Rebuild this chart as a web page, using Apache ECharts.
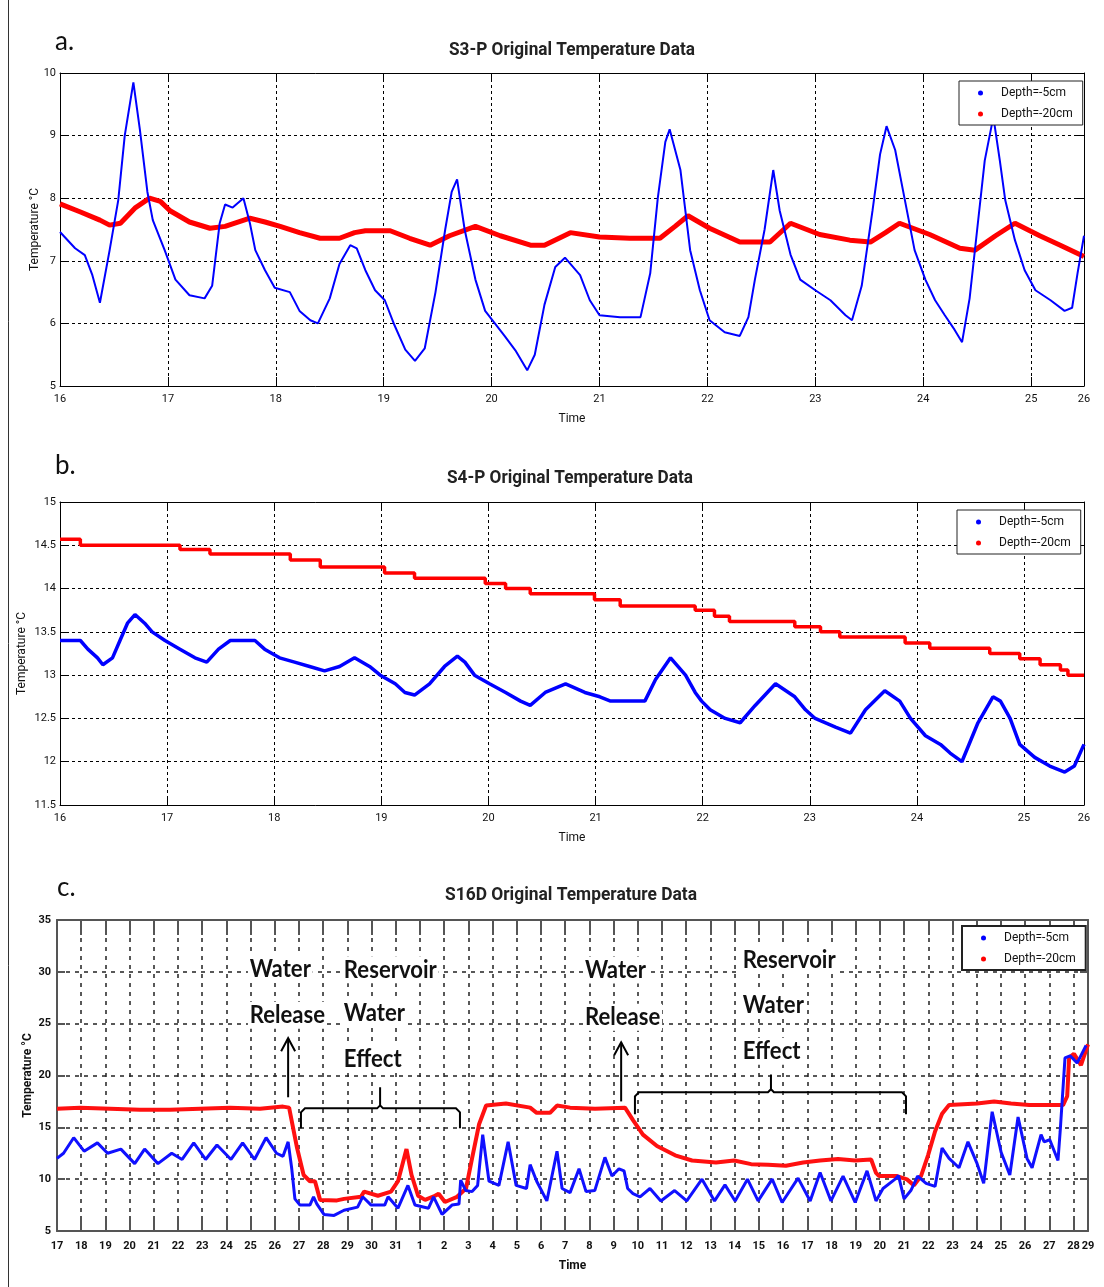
<!DOCTYPE html>
<html>
<head>
<meta charset="utf-8">
<script src="https://cdn.jsdelivr.net/npm/echarts@6/dist/echarts.min.js"></script>
<style>
  html, body { margin: 0; padding: 0; background: #fff; }
  #chart { width: 1104px; height: 1287px; }
</style>
</head>
<body>
<div id="chart"></div>
<script>
// ---- S3-P : time in days, temperature in °C ----
const s3Shallow = [[16.00,7.46],[16.14,7.20],[16.23,7.09],[16.30,6.77],[16.37,6.33],[16.46,7.17],[16.54,7.97],[16.60,9.00],[16.68,9.85],[16.74,9.10],[16.81,8.10],[16.86,7.65],[16.97,7.17],[17.07,6.70],[17.20,6.45],[17.34,6.40],[17.41,6.60],[17.48,7.60],[17.53,7.90],[17.60,7.85],[17.70,8.00],[17.76,7.60],[17.81,7.17],[17.90,6.85],[17.99,6.57],[18.13,6.50],[18.22,6.20],[18.32,6.05],[18.39,6.00],[18.50,6.40],[18.59,6.95],[18.69,7.25],[18.75,7.20],[18.83,6.85],[18.92,6.53],[19.01,6.37],[19.10,5.97],[19.20,5.58],[19.29,5.40],[19.38,5.60],[19.48,6.50],[19.57,7.50],[19.63,8.10],[19.68,8.30],[19.75,7.50],[19.85,6.70],[19.94,6.20],[20.03,6.00],[20.12,5.80],[20.22,5.57],[20.33,5.25],[20.40,5.50],[20.49,6.30],[20.59,6.90],[20.68,7.05],[20.82,6.77],[20.91,6.37],[21.00,6.13],[21.19,6.10],[21.38,6.10],[21.47,6.80],[21.54,8.00],[21.61,8.90],[21.65,9.10],[21.75,8.45],[21.84,7.17],[21.93,6.53],[22.02,6.05],[22.16,5.86],[22.30,5.80],[22.38,6.10],[22.44,6.70],[22.53,7.50],[22.61,8.45],[22.67,7.80],[22.77,7.10],[22.86,6.70],[23.00,6.53],[23.14,6.37],[23.28,6.13],[23.34,6.05],[23.43,6.60],[23.53,7.80],[23.60,8.70],[23.66,9.15],[23.74,8.77],[23.83,7.97],[23.92,7.17],[24.02,6.70],[24.11,6.37],[24.20,6.13],[24.29,5.90],[24.36,5.70],[24.43,6.40],[24.50,7.50],[24.57,8.60],[24.65,9.30],[24.71,8.60],[24.76,7.97],[24.85,7.33],[24.94,6.85],[25.04,6.53],[25.18,6.37],[25.31,6.20],[25.38,6.25],[25.43,6.80],[25.49,7.40]];
const s3Deep = [[16.00,7.91],[16.19,7.78],[16.37,7.65],[16.46,7.57],[16.56,7.60],[16.70,7.85],[16.83,8.00],[16.93,7.95],[17.02,7.80],[17.20,7.62],[17.39,7.52],[17.53,7.55],[17.76,7.68],[17.90,7.62],[18.04,7.55],[18.22,7.45],[18.41,7.36],[18.59,7.36],[18.73,7.45],[18.83,7.48],[19.06,7.48],[19.24,7.36],[19.43,7.25],[19.61,7.40],[19.85,7.55],[20.08,7.40],[20.36,7.25],[20.49,7.25],[20.73,7.45],[21.00,7.38],[21.28,7.36],[21.56,7.36],[21.70,7.55],[21.82,7.72],[22.02,7.52],[22.30,7.30],[22.58,7.30],[22.77,7.60],[23.04,7.42],[23.32,7.33],[23.51,7.30],[23.65,7.45],[23.78,7.60],[24.06,7.42],[24.34,7.20],[24.48,7.17],[24.67,7.40],[24.85,7.60],[25.08,7.40],[25.27,7.25],[25.49,7.07]];
const s3TimeLabels = ['16','17','18','19','20','21','22','23','24','25','26'];

// ---- S4-P ----
const s4Shallow = [[16.00,13.40],[16.19,13.40],[16.26,13.30],[16.35,13.20],[16.40,13.12],[16.49,13.20],[16.56,13.40],[16.63,13.60],[16.70,13.70],[16.79,13.60],[16.86,13.50],[16.98,13.40],[17.12,13.30],[17.26,13.20],[17.37,13.15],[17.48,13.30],[17.59,13.40],[17.82,13.40],[17.91,13.30],[18.05,13.20],[18.19,13.15],[18.33,13.10],[18.47,13.05],[18.61,13.10],[18.75,13.20],[18.89,13.10],[18.99,13.00],[19.13,12.90],[19.22,12.80],[19.31,12.77],[19.45,12.90],[19.59,13.10],[19.71,13.22],[19.78,13.15],[19.87,13.00],[20.01,12.90],[20.16,12.80],[20.30,12.70],[20.39,12.65],[20.53,12.80],[20.72,12.90],[20.90,12.80],[21.04,12.75],[21.14,12.70],[21.46,12.70],[21.56,12.95],[21.70,13.20],[21.84,13.00],[21.93,12.80],[21.99,12.70],[22.07,12.60],[22.21,12.50],[22.35,12.45],[22.49,12.65],[22.68,12.90],[22.86,12.75],[22.96,12.60],[23.05,12.50],[23.24,12.40],[23.38,12.33],[23.52,12.60],[23.70,12.82],[23.84,12.70],[23.94,12.50],[24.08,12.30],[24.22,12.20],[24.31,12.10],[24.42,12.00],[24.57,12.45],[24.71,12.75],[24.78,12.70],[24.87,12.50],[24.96,12.20],[25.10,12.05],[25.24,11.95],[25.38,11.88],[25.47,11.95],[25.56,12.20]];
const s4Deep = [[16.00,14.57],[16.19,14.50],[17.12,14.45],[17.40,14.40],[18.15,14.33],[18.43,14.25],[19.03,14.18],[19.31,14.12],[19.97,14.06],[20.16,14.00],[20.39,13.94],[20.99,13.87],[21.23,13.80],[21.93,13.75],[22.11,13.68],[22.25,13.62],[22.86,13.56],[23.10,13.50],[23.28,13.44],[23.89,13.37],[24.12,13.31],[24.68,13.25],[24.96,13.19],[25.15,13.12],[25.34,13.06],[25.41,13.00],[25.56,13.00]];
const s4TimeLabels = ['16','17','18','19','20','21','22','23','24','25','26'];

// ---- S16D : day 17..31 then 32.. = 1.. of the next month ----
const s16Shallow = [[17.00,12.0],[17.27,12.5],[17.69,14.0],[18.12,12.7],[18.67,13.5],[19.09,12.5],[19.64,12.9],[20.21,11.5],[20.62,12.9],[21.17,11.5],[21.74,12.5],[22.17,11.9],[22.65,13.5],[23.14,11.9],[23.61,13.3],[24.19,11.9],[24.67,13.5],[25.16,11.9],[25.64,14.0],[26.07,12.5],[26.34,12.2],[26.55,13.6],[26.70,11.0],[26.83,8.1],[27.04,7.5],[27.45,7.5],[27.60,8.3],[27.74,7.6],[28.03,6.6],[28.45,6.5],[28.86,7.0],[29.42,7.3],[29.63,8.3],[29.98,7.5],[30.54,7.5],[30.68,8.3],[31.09,7.2],[31.50,9.4],[31.79,7.5],[32.35,7.2],[32.56,8.3],[32.91,6.6],[33.32,7.5],[33.61,7.6],[33.68,9.9],[33.89,8.9],[34.15,8.8],[34.38,9.4],[34.59,14.3],[34.85,9.8],[35.26,9.4],[35.64,13.6],[35.97,9.4],[36.40,9.1],[36.55,11.4],[36.82,9.8],[37.24,7.9],[37.66,12.7],[37.87,9.1],[38.20,8.7],[38.57,11.0],[38.86,8.8],[39.22,8.9],[39.64,12.1],[39.93,10.3],[40.22,11.0],[40.43,10.8],[40.58,9.1],[40.80,8.6],[41.09,8.3],[41.50,9.1],[41.95,7.9],[42.52,8.9],[43.02,7.9],[43.65,10.0],[44.17,7.9],[44.60,9.45],[45.02,7.9],[45.53,10.0],[45.97,7.9],[46.55,10.0],[46.96,7.75],[47.62,10.1],[48.12,7.9],[48.53,10.65],[48.98,7.9],[49.48,10.3],[49.98,7.75],[50.47,10.8],[50.84,7.9],[51.13,9.1],[51.63,10.0],[51.77,10.35],[52.00,8.1],[52.28,8.9],[52.56,10.3],[52.91,9.6],[53.28,9.3],[53.57,13.0],[53.86,12.0],[54.27,11.1],[54.64,13.6],[55.00,11.6],[55.29,9.6],[55.64,16.5],[56.01,12.6],[56.37,10.4],[56.71,16.0],[57.08,12.0],[57.29,11.1],[57.66,14.3],[57.79,13.6],[58.02,13.8],[58.36,11.8],[58.45,14.6],[58.65,21.7],[58.86,21.9],[59.15,21.2],[59.52,22.9]];
const s16Deep = [[17.00,16.8],[17.95,16.9],[19.19,16.8],[20.43,16.7],[21.67,16.7],[22.91,16.8],[24.15,16.9],[25.39,16.8],[26.34,17.0],[26.59,16.9],[26.92,13.0],[27.19,10.4],[27.45,9.8],[27.66,9.8],[27.87,8.0],[28.57,7.95],[28.86,8.1],[29.56,8.3],[29.69,8.8],[30.26,8.4],[30.80,8.8],[31.09,9.8],[31.44,12.9],[31.65,10.4],[31.92,8.4],[32.21,8.0],[32.62,8.4],[32.77,8.6],[33.03,7.8],[33.53,8.3],[33.90,9.1],[34.15,12.0],[34.44,15.3],[34.73,17.1],[35.55,17.3],[36.55,16.9],[36.82,16.4],[37.37,16.4],[37.66,17.1],[38.20,16.9],[39.23,16.8],[40.47,16.9],[40.80,15.7],[41.21,14.3],[41.79,13.2],[42.54,12.3],[43.24,11.8],[44.23,11.6],[44.98,11.8],[45.68,11.45],[46.38,11.4],[47.12,11.3],[47.83,11.6],[48.53,11.8],[49.27,11.95],[49.98,11.8],[50.64,11.9],[50.84,10.6],[50.97,10.3],[51.71,10.3],[52.12,9.98],[52.41,9.4],[52.70,10.3],[52.99,12.3],[53.28,14.6],[53.57,16.3],[53.86,17.15],[55.02,17.3],[55.72,17.5],[56.42,17.3],[57.17,17.15],[57.87,17.15],[58.57,17.15],[58.74,18.0],[58.82,21.7],[59.02,22.1],[59.31,21.0],[59.60,23.0]];
const s16TimeLabels = ['17','18','19','20','21','22','23','24','25','26','27','28','29','30','31',
  '1','2','3','4','5','6','7','8','9','10','11','12','13','14','15','16','17','18','19','20',
  '21','22','23','24','25','26','27','28','29'];

const seriesNames = ['Depth=-5cm', 'Depth=-20cm'];
const panelTitles = ['S3-P Original Temperature Data', 'S4-P Original Temperature Data', 'S16D Original Temperature Data'];

const NARROW = "'Liberation Sans Narrow','Arial Narrow',Roboto,Arial,sans-serif";
const SANS = "Lato,'Open Sans','Noto Sans',sans-serif";
const BLUE = '#0000ff', RED = '#ff0000';

const chart = echarts.init(document.getElementById('chart'));

// width of a string in a given canvas font, used to squeeze text to a condensed look
const measureCtx = document.createElement('canvas').getContext('2d');
function fitScale(text, font, width) {
  measureCtx.font = font;
  return width / measureCtx.measureText(text).width;
}

// Bottom + top x axes for one panel (boxed frame, inward ticks)
function xPair(g, min, max, labels, o) {
  const line = { onZero: false, lineStyle: { color: o.frame, width: o.frameW } };
  const tick = { inside: true, length: o.tickX, lineStyle: { color: o.frame, width: o.tickW } };
  return [
    { type: 'value', gridIndex: g, position: 'bottom', min, max, interval: 1,
      axisLine: line, axisTick: tick,
      axisLabel: { formatter: (v, i) => labels[i], showMinLabel: true, showMaxLabel: true,
        margin: o.labelMargin, fontSize: o.labelSize, color: '#111', fontFamily: NARROW, fontWeight: o.labelWeight },
      splitLine: { show: true, lineStyle: { color: o.grid, type: o.dash, width: o.gridW } },
      name: 'Time', nameLocation: 'middle', nameGap: o.timeGap, nameMoveOverlap: false,
      nameTextStyle: { fontSize: 12, color: '#111', fontFamily: NARROW, fontWeight: o.labelWeight } },
    { type: 'value', gridIndex: g, position: 'top', min, max, interval: 1,
      axisLine: line, axisTick: tick, axisLabel: { show: false }, splitLine: { show: false } }
  ];
}
function yPair(g, min, max, interval, o) {
  const line = { onZero: false, lineStyle: { color: o.frame, width: o.frameW } };
  const tick = { inside: true, length: o.tickY, lineStyle: { color: o.frame, width: o.tickW } };
  return [
    { type: 'value', gridIndex: g, position: 'left', min, max, interval,
      axisLine: line, axisTick: tick,
      axisLabel: { margin: o.yLabelMargin, fontSize: o.labelSize, color: '#111', fontFamily: NARROW, fontWeight: o.labelWeight },
      splitLine: { show: true, lineStyle: { color: o.grid, type: o.dash, width: o.gridW } },
      name: 'Temperature °C', nameLocation: 'middle', nameGap: o.nameGap, nameMoveOverlap: false,
      nameTextStyle: { fontSize: 12, color: '#111', fontFamily: NARROW, fontWeight: o.labelWeight } },
    { type: 'value', gridIndex: g, position: 'right', min, max, interval,
      axisLine: line, axisTick: tick, axisLabel: { show: false }, splitLine: { show: false } }
  ];
}

const styleAB = { frame: '#000', frameW: 1, tickW: 1, tickX: 9, tickY: 7, grid: '#000', gridW: 1, dash: [3, 3],
  labelMargin: 8, yLabelMargin: 4, labelSize: 11, labelWeight: 'normal', timeGap: 27 };
const styleC = { frame: '#555', frameW: 2, tickW: 2, tickX: 15, tickY: 8, grid: '#222', gridW: 1.5, dash: [4, 5],
  labelMargin: 10, yLabelMargin: 6, labelSize: 11, labelWeight: 'bold', timeGap: 29 };

function legendAt(left, top, bw) {
  return {
    orient: 'vertical', left, top, selectedMode: false,
    backgroundColor: '#fff', borderColor: '#222', borderWidth: bw,
    padding: [6, 10, 5, 19], itemGap: 9, itemWidth: 5, itemHeight: 5,
    textStyle: { fontSize: 12, color: '#111', fontFamily: NARROW, padding: [0, 0, 0, 13] },
    data: [{ name: seriesNames[0], icon: 'circle' }, { name: seriesNames[1], icon: 'circle' }]
  };
}

const option = {
  animation: false,
  backgroundColor: '#fff',
  grid: [
    { left: 60, top: 73, width: 1024, height: 313 },
    { left: 60, top: 502, width: 1024, height: 303 },
    { left: 57, top: 920, width: 1031, height: 311 }
  ],
  xAxis: [].concat(
    xPair(0, 16, 25.49, s3TimeLabels, styleAB),
    xPair(1, 16, 25.56, s4TimeLabels, styleAB),
    xPair(2, 17, 59.6, s16TimeLabels, styleC)
  ),
  yAxis: [].concat(
    yPair(0, 5, 10, 1, Object.assign({}, styleAB, { nameGap: 19 })),
    yPair(1, 11.5, 15, 0.5, Object.assign({}, styleAB, { nameGap: 32 })),
    yPair(2, 5, 35, 5, Object.assign({}, styleC, { nameGap: 23 }))
  ),
  legend: [legendAt(959, 81, 1), legendAt(957, 510, 1), legendAt(962, 926, 2)],
  series: [
    { name: seriesNames[0], type: 'line', xAxisIndex: 0, yAxisIndex: 0, data: s3Shallow, showSymbol: false,
      itemStyle: { color: BLUE }, lineStyle: { color: BLUE, width: 2 }, z: 3 },
    { name: seriesNames[1], type: 'line', xAxisIndex: 0, yAxisIndex: 0, data: s3Deep, showSymbol: false,
      itemStyle: { color: RED }, lineStyle: { color: RED, width: 5 }, z: 2 },
    { name: seriesNames[0], type: 'line', xAxisIndex: 2, yAxisIndex: 2, data: s4Shallow, showSymbol: false,
      itemStyle: { color: BLUE }, lineStyle: { color: BLUE, width: 3.5 } },
    { name: seriesNames[1], type: 'line', xAxisIndex: 2, yAxisIndex: 2, data: s4Deep, showSymbol: false, step: 'end',
      itemStyle: { color: RED }, lineStyle: { color: RED, width: 3.5 } },
    { name: seriesNames[0], type: 'line', xAxisIndex: 4, yAxisIndex: 4, data: s16Shallow, showSymbol: false,
      itemStyle: { color: BLUE }, lineStyle: { color: '#1010ff', width: 3 }, z: 3 },
    { name: seriesNames[1], type: 'line', xAxisIndex: 4, yAxisIndex: 4, data: s16Deep, showSymbol: false,
      itemStyle: { color: RED }, lineStyle: { color: '#ff1010', width: 4 }, z: 2 }
  ]
};
chart.setOption(option);

// ---- titles, panel letters and the annotations of panel c ----
const pc = (d, v) => chart.convertToPixel({ xAxisIndex: 4, yAxisIndex: 4 }, [d, v]);
const noteBlocks = [
  { d: 24.89, lines: [['Water', 30.27], ['Release', 25.82]] },
  { d: 28.78, lines: [['Reservoir', 30.20], ['Water', 26.01], ['Effect', 21.57]] },
  { d: 38.74, lines: [['Water', 30.17], ['Release', 25.63]] },
  { d: 45.26, lines: [['Reservoir', 31.14], ['Water', 26.79], ['Effect', 22.34]] }
];
const arrows = [{ d: 26.55, from: 17.9, to: 23.6 }, { d: 40.31, from: 17.5, to: 23.2 }];
const brackets = [
  { d0: 27.08, d1: 33.65, mid: 30.35, v: 16.83, foot: 14.9, top: 18.86 },
  { d0: 40.88, d1: 52.08, mid: 46.50, v: 18.38, foot: 16.26, top: 20.1 }
];

const g = [];
const TITLE_FONT = 'bold 18px Roboto';
[[572, 50, 246], [570, 478, 246], [571, 895, 252]].forEach((p, i) => {
  const sx = fitScale(panelTitles[i], TITLE_FONT, p[2]);
  g.push({ type: 'text', x: p[0], y: p[1], scaleX: sx,
    style: { text: panelTitles[i], fontSize: 18, fontWeight: 'bold', fontFamily: 'Roboto', fill: '#222',
      align: 'center', verticalAlign: 'middle' } });
});
[['a.', 55, 42], ['b.', 55, 466], ['c.', 57, 888]].forEach(t => {
  g.push({ type: 'text', x: t[1], y: t[2], style: { text: t[0], fontSize: 26, fontFamily: SANS, fill: '#111', verticalAlign: 'middle' } });
});
g.push({ type: 'line', shape: { x1: 8.5, y1: 0, x2: 8.5, y2: 1287 }, style: { stroke: '#333', lineWidth: 1 } });

const NOTE_FONT = 'bold 25px Lato';
const noteScale = fitScale('Reservoir', NOTE_FONT, 93);
noteBlocks.forEach(b => {
  b.lines.forEach(l => {
    const p = pc(b.d, l[1]);
    g.push({ type: 'text', x: p[0], y: p[1], z: 20, scaleX: noteScale,
      style: { text: l[0], fontSize: 25, fontWeight: 'bold', fontFamily: 'Lato', fill: '#111', verticalAlign: 'middle',
        backgroundColor: '#fff', padding: [1, 2, 1, 2] } });
  });
});
arrows.forEach(a => {
  const p0 = pc(a.d, a.from), p1 = pc(a.d, a.to);
  g.push({ type: 'line', z: 20, shape: { x1: p0[0], y1: p0[1], x2: p1[0], y2: p1[1] }, style: { stroke: '#000', lineWidth: 2 } });
  g.push({ type: 'polyline', z: 20, shape: { points: [[p1[0] - 7, p1[1] + 13], [p1[0], p1[1]], [p1[0] + 7, p1[1] + 13]] },
    style: { stroke: '#000', lineWidth: 2, fill: null } });
});
brackets.forEach(b => {
  const a = pc(b.d0, b.foot), c = pc(b.d0, b.v), m = pc(b.mid, b.v), mt = pc(b.mid, b.top);
  const e = pc(b.d1, b.v), f = pc(b.d1, b.foot);
  g.push({ type: 'polyline', z: 20, shape: { points: [a, [c[0], c[1] + 4], [c[0] + 4, c[1]], [m[0] - 3, m[1]], [m[0], m[1] - 3], mt] },
    style: { stroke: '#000', lineWidth: 2, fill: null } });
  g.push({ type: 'polyline', z: 20, shape: { points: [[m[0], m[1] - 3], [m[0] + 3, m[1]], [e[0] - 4, e[1]], [e[0], e[1] + 4], f] },
    style: { stroke: '#000', lineWidth: 2, fill: null } });
});
chart.setOption({ graphic: g });
</script>
</body>
</html>
